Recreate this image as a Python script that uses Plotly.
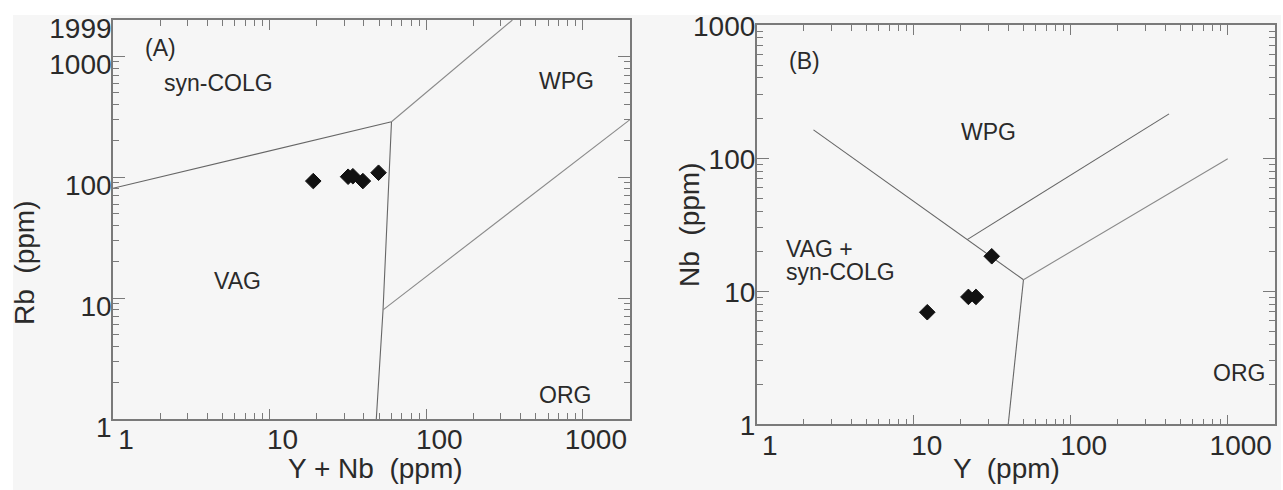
import numpy as np
import plotly.graph_objects as go

W, H = 1283, 490

# ---------------- data ----------------
# Panel A : Rb vs Y+Nb
a_ynb = [19.0, 31.7, 34.0, 39.4, 49.6]
a_rb = [93, 101, 102, 93, 109]
# Panel B : Nb vs Y
b_y = [12.2, 22.3, 24.9, 31.4]
b_nb = [6.95, 9.06, 9.06, 18.3]

# discrimination boundaries (Pearce et al.)
a_line1_x, a_line1_y = [1, 60], [81, 288]            # syn-COLG / VAG
a_line2_x, a_line2_y = [60, 355], [288, 1999]        # syn-COLG / WPG
a_line3_x, a_line3_y = [60, 53, 48], [288, 8, 1]      # VAG / WPG+ORG
a_line4_x, a_line4_y = [53, 1999], [8, 300]          # WPG / ORG

b_line1_x, b_line1_y = [2.3, 50], [163, 12.2]        # VAG+syn-COLG / WPG
b_line2_x, b_line2_y = [50, 40], [12.2, 1]           # VAG+syn-COLG / ORG
b_line3_x, b_line3_y = [50, 1000], [12.2, 99]        # WPG / ORG
b_line4_x, b_line4_y = [21.9, 423], [24.4, 215]      # WPG upper line

a_ytick_vals = [1, 10, 100, 1000, 1999]
a_ytick_text = ["1", "10", "100", "1000", "1999"]
xtick_vals = [1, 10, 100, 1000]
xtick_text = ["1", "10", "100", "1000"]
b_ytick_vals = [1, 10, 100, 1000]
b_ytick_text = ["1", "10", "100", "1000"]

minor_vals = [m * 10 ** d for d in range(0, 4) for m in range(2, 10)]

# ---------------- figure ----------------
line_col = "#666666"
light_col = "#8a8a8a"
axis_col = "#7a7a7a"
txt_col = "#2a2a2a"
FONT = "Liberation Sans, Arial, sans-serif"

fig = go.Figure()

def add_line(x, y, xa, ya, color=line_col, width=1.1):
    fig.add_trace(go.Scatter(x=x, y=y, mode="lines", xaxis=xa, yaxis=ya,
                             line=dict(color=color, width=width),
                             showlegend=False, hoverinfo="skip"))

add_line(a_line1_x, a_line1_y, "x", "y")
add_line(a_line2_x, a_line2_y, "x", "y", light_col)
add_line(a_line3_x, a_line3_y, "x", "y")
add_line(a_line4_x, a_line4_y, "x", "y", light_col)

add_line(b_line1_x, b_line1_y, "x2", "y2")
add_line(b_line2_x, b_line2_y, "x2", "y2")
add_line(b_line3_x, b_line3_y, "x2", "y2", light_col)
add_line(b_line4_x, b_line4_y, "x2", "y2")

marker = dict(symbol="diamond", size=12, color="#111111",
              line=dict(color="#111111", width=1))
fig.add_trace(go.Scatter(x=a_ynb, y=a_rb, mode="markers", xaxis="x", yaxis="y",
                         marker=marker, showlegend=False))
fig.add_trace(go.Scatter(x=b_y, y=b_nb, mode="markers", xaxis="x2", yaxis="y2",
                         marker=marker, showlegend=False))


def px_x(v):
    return v / W


def px_y(v):
    return 1 - v / H


def log_axis(domain, rng, tvals, ttext, shift, standoff, anchor, ticklen):
    return dict(
        type="log", domain=domain, range=rng, anchor=anchor, automargin=False,
        tickmode="array", tickvals=tvals, ticktext=ttext,
        ticks="inside", ticklen=ticklen, tickwidth=1.2, tickcolor=axis_col,
        showline=True, linecolor=axis_col, linewidth=1.6, mirror="ticks",
        showgrid=False, zeroline=False,
        tickfont=dict(family=FONT, size=28, color=txt_col),
        ticklabelshift=shift, ticklabelstandoff=standoff,
        ticklabeloverflow="allow",
        minor=dict(tickmode="array", tickvals=minor_vals, ticks="inside",
                   ticklen=6, tickwidth=1, tickcolor=axis_col, showgrid=False),
    )


TOP = np.log10(2000)
fig.update_layout(
    width=W, height=H,
    margin=dict(l=0, r=0, t=0, b=0, autoexpand=False),
    paper_bgcolor="white",
    plot_bgcolor="rgba(0,0,0,0)",
    font=dict(family=FONT, color=txt_col),
    xaxis=log_axis([px_x(113), px_x(630)], [0, TOP], xtick_vals, xtick_text, 13, -5, "y", 10),
    yaxis=log_axis([px_y(419), px_y(20)], [0, TOP], a_ytick_vals, a_ytick_text, 8, -6, "x", 12),
    xaxis2=log_axis([px_x(756.7), px_x(1275)], [0, TOP], xtick_vals, xtick_text, 13, -5, "y2", 10),
    yaxis2=log_axis([px_y(424.3), px_y(25)], [0, 3], b_ytick_vals, b_ytick_text, 1, -6, "x2", 12),
    shapes=[dict(type="rect", xref="paper", yref="paper", layer="below",
                 x0=px_x(13), x1=px_x(1281), y0=0, y1=px_y(15),
                 fillcolor="#f6f6f6", line=dict(width=0))],
)


def label(text, x, y, size=23, angle=0, xanchor="center"):
    fig.add_annotation(text=text, x=px_x(x), y=px_y(y), xref="paper", yref="paper",
                       showarrow=False, textangle=angle, xanchor=xanchor, yanchor="middle",
                       font=dict(family=FONT, size=size, color=txt_col))


# region labels
label("(A)", 160, 48)
label("syn-COLG", 218, 83)
label("WPG", 566, 81)
label("VAG", 238, 281)
label("ORG", 565, 395)

label("(B)", 804, 61)
label("WPG", 989, 132)
label("VAG +", 784, 249, xanchor="left")
label("syn-COLG", 784, 272, xanchor="left")
label("ORG", 1239, 373)

# axis titles
label("Rb  (ppm)", 24, 263, size=28, angle=-90)
label("Y + Nb  (ppm)", 375, 468, size=28)
label("Nb  (ppm)", 690, 225, size=28, angle=-90)
label("Y  (ppm)", 1006, 468, size=28)

fig.write_html("out.html", config={"displayModeBar": False},
               post_script="document.body.style.margin='0';document.body.style.overflow='hidden';")
